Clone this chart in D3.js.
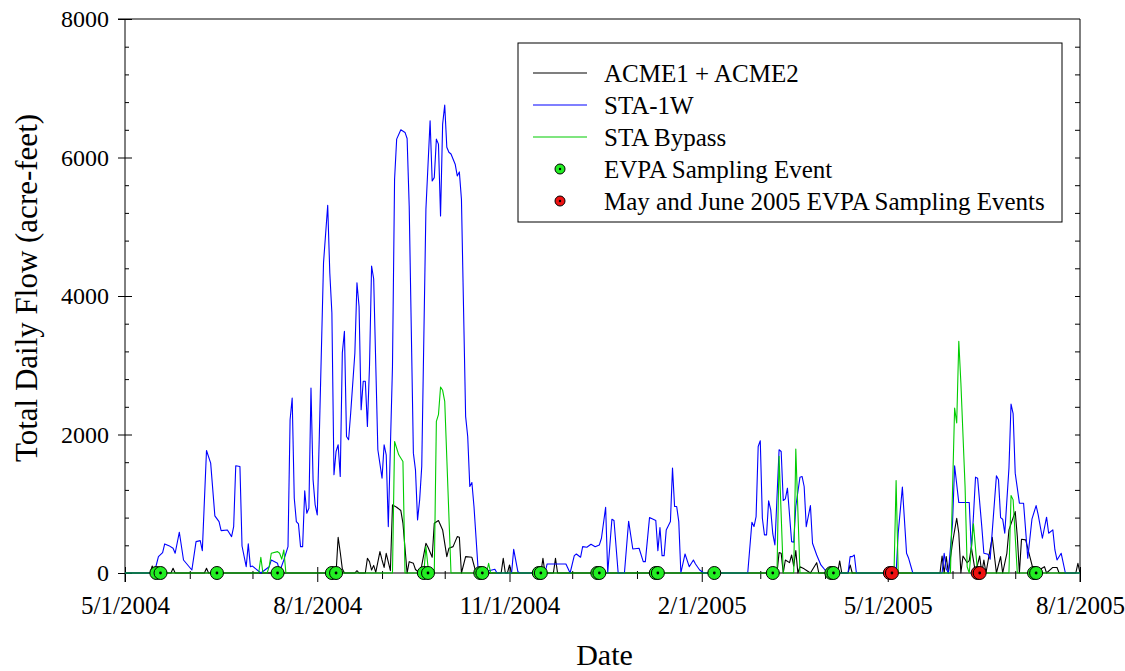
<!DOCTYPE html>
<html>
<head>
<meta charset="utf-8">
<script src="https://cdn.jsdelivr.net/npm/d3@7"></script>
<style>
  body { margin: 0; background: #fff; }
  svg { font-family: "Liberation Serif", "Times New Roman", serif; }
</style>
</head>
<body>
<div class="chart"></div>
<script>
// days counted from 5/1/2004
var startDay = "5/1/2004";

var acme = [[0,0],[12,0],[13,100],[14,30],[15,0],[22,0],[23,68],[24,0],[38,0],[39,68],[40,0],
  [101,0],[102,516],[103,300],[104,60],[105,0],[110,0],[111,33],[112,0],[115,0],[116,212],[117,164],
  [118,43],[119,110],[120,10],[122,309],[123,188],[124,80],[125,285],[127,33],[128,984],[130,950],
  [132,902],[133,719],[135,0],[136,164],[138,140],[139,50],[141,0],[142,110],[144,429],[145,371],
  [147,227],[148,719],[150,757],[152,622],[154,236],[155,357],[157,381],[159,525],[160,516],[161,0],
  [163,236],[166,227],[168,0],[180,0],[181,212],[182,0],[183,0],[184,116],[185,0],[199,0],[200,212],
  [201,0],[205,0],[206,212],[207,0],[312,0],[313,294],[314,285],[315,0],[316,188],[318,150],[319,260],
  [320,100],[321,323],[322,0],[323,90],[325,60],[326,40],[328,0],[331,149],[332,0],[341,0],[342,174],
  [343,0],[346,0],[347,116],[348,0],[390,0],[391,246],[392,0],[393,236],[394,0],[396,439],[398,791],
  [399,574],[400,0],[401,246],[403,149],[404,178],[405,371],[407,0],[409,246],[410,0],[411,188],
  [412,0],[415,516],[417,0],[419,236],[420,0],[422,285],[423,622],[426,887],[427,525],[428,0],
  [429,487],[431,478],[433,236],[435,0],[440,91],[441,0],[444,80],[446,80],[447,0],[455,0],[456,140],[457,0]];

var sta1w = [[0,0],[14,0],[16,236],[18,294],[19,420],[21,395],[23,357],[24,285],[26,589],[28,188],
  [32,43],[34,453],[36,467],[37,323],[39,1769],[41,1587],[43,825],[45,742],[46,612],[49,622],[51,525],
  [52,670],[53,1548],[55,1538],[56,390],[58,91],[59,420],[60,91],[61,100],[65,0],[69,91],[70,188],
  [73,140],[74,19],[76,188],[78,381],[79,2213],[80,2527],[81,1080],[82,742],[83,709],[84,381],[85,381],
  [86,1186],[87,863],[88,936],[89,2672],[90,1345],[91,984],[92,839],[93,1996],[95,4480],[97,5310],
  [98,4336],[99,3757],[100,1418],[101,1755],[102,1852],[103,1394],[104,3178],[105,3490],[106,1972],
  [107,1925],[108,2311],[110,3178],[111,4191],[112,3853],[113,2359],[114,2768],[115,2768],[116,2117],
  [117,2985],[118,4432],[119,4249],[121,1780],[123,1370],[124,1852],[125,1707],[126,670],[128,2985],
  [129,5686],[130,6265],[132,6400],[134,6362],[135,6275],[136,5300],[138,1731],[139,1490],[140,767],
  [141,1056],[142,1538],[144,5252],[146,6530],[147,5662],[148,5710],[149,6265],[150,6193],[151,5155],
  [152,6482],[153,6757],[154,6149],[155,6076],[156,6051],[158,5903],[159,5734],[160,5792],[161,5397],
  [163,2262],[164,1972],[165,1249],[166,1307],[167,960],[169,43],[170,0],[177,53],[178,0],[185,0],
  [186,342],[188,19],[189,0],[201,0],[202,130],[211,130],[213,0],[215,251],[216,275],[218,227],
  [219,381],[221,371],[223,415],[225,380],[227,405],[228,502],[230,950],[231,0],[233,777],[234,757],
  [236,0],[239,0],[241,748],[243,347],[246,357],[248,164],[249,164],[251,800],[254,757],[255,323],
  [256,656],[257,251],[258,251],[259,622],[261,742],[262,1515],[263,960],[264,960],[265,742],[266,0],
  [268,275],[270,91],[272,188],[273,130],[275,43],[277,0],[298,0],[300,733],[301,670],[302,815],
  [303,1827],[304,1910],[305,791],[306,550],[307,550],[308,1042],[309,911],[310,564],[311,405],
  [313,1780],[314,1755],[315,1046],[316,1071],[317,1225],[319,453],[320,444],[321,960],[323,1384],
  [324,1394],[325,1249],[326,670],[328,974],[329,429],[331,260],[333,116],[335,43],[337,0],[346,0],
  [347,236],[348,236],[349,260],[350,0],[369,0],[370,574],[372,1240],[374,285],[375,212],[377,0],
  [391,0],[392,285],[393,60],[394,0],[396,719],[397,1548],[399,1017],[404,1017],[405,333],[406,815],
  [407,1384],[408,1370],[410,670],[411,285],[413,270],[414,198],[415,598],[417,1403],[418,1345],
  [419,800],[420,777],[421,574],[423,1515],[424,2440],[425,2300],[426,1442],[428,1008],[430,1008],
  [432,212],[434,777],[436,974],[437,839],[439,502],[441,806],[442,574],[444,622],[445,333],[446,188],
  [448,285],[450,0],[457,0]];

var bypass = [[0,0],[64,0],[65,227],[66,0],[68,0],[69,91],[70,285],[73,309],[74,285],[75,200],[76,333],
  [77,0],[128,0],[129,1899],[131,1707],[133,1611],[134,0],[143,0],[144,381],[145,90],[146,0],[148,0],
  [149,2190],[150,2286],[151,2686],[152,2638],[153,2479],[156,0],[173,0],[174,140],[175,0],[312,0],
  [313,1684],[315,0],[320,0],[321,1790],[323,0],[368,0],[369,1336],[370,0],[395,0],[397,2383],
  [398,2166],[399,3347],[400,2744],[402,1249],[403,90],[404,0],[406,709],[408,0],[423,0],[424,1119],
  [425,1056],[427,0],[457,0]];

var evpaEvents = ["5/16/2004","5/18/2004","6/14/2004","7/13/2004","8/8/2004","8/10/2004","9/21/2004",
  "9/23/2004","10/18/2004","10/19/2004","11/15/2004","11/16/2004","12/13/2004","12/14/2004",
  "1/10/2005","1/11/2005","2/7/2005","3/7/2005","4/4/2005","4/5/2005","7/10/2005","7/11/2005"];
var mayJuneEvents = ["5/2/2005","5/3/2005","6/13/2005","6/14/2005"];

var xTickLabels = ["5/1/2004","8/1/2004","11/1/2004","2/1/2005","5/1/2005","8/1/2005"];
var yTicks = [0, 2000, 4000, 6000, 8000];

var legendNames = ["ACME1 + ACME2", "STA-1W", "STA Bypass", "EVPA Sampling Event",
  "May and June 2005 EVPA Sampling Events"];

var svgW = 1125, svgH = 671;
var pLeft = 125, pRight = 1080, pTop = 19, pBottom = 573;

var parse = d3.timeParse("%m/%d/%Y");
var fmt = d3.timeFormat("%-m/%-d/%Y");
var start = parse(startDay);
var toDate = function(d) { return d3.timeDay.offset(start, d); };

var svg = d3.select(".chart").append("svg")
  .attr("width", svgW)
  .attr("height", svgH);

var x = d3.scaleTime()
  .domain([start, parse("8/1/2005")])
  .range([pLeft, pRight]);
var y = d3.scaleLinear()
  .domain([0, 8000])
  .range([pBottom, pTop]);

// frame
svg.append("line").attr("x1", pLeft - 7).attr("x2", pRight).attr("y1", pTop).attr("y2", pTop)
  .attr("stroke", "#000");
svg.append("line").attr("x1", pRight).attr("x2", pRight).attr("y1", pTop).attr("y2", pBottom + 9)
  .attr("stroke", "#000");
svg.append("line").attr("x1", pLeft).attr("x2", pLeft).attr("y1", pTop).attr("y2", pBottom + 9)
  .attr("stroke", "#000");
svg.append("line").attr("x1", pLeft).attr("x2", pRight).attr("y1", pBottom).attr("y2", pBottom)
  .attr("stroke", "#000");

// y axis
var yMinor = d3.range(400, 8000, 400).filter(function(v) { return v % 2000 != 0; });
var yAxisG = svg.append("g").attr("transform", "translate(" + pLeft + ",0)")
  .call(d3.axisLeft(y).tickValues(yTicks).tickSize(7).tickPadding(9).tickFormat(d3.format("d")));
yAxisG.select(".domain").remove();
yAxisG.selectAll(".tick line").attr("x1", 7);
yAxisG.selectAll("text").style("font-size", "24px").style("font-family", "Liberation Serif").attr("fill", "#000");

var yMinorG = svg.append("g").attr("transform", "translate(" + pLeft + ",0)")
  .call(d3.axisLeft(y).tickValues(yMinor).tickSize(-4).tickFormat(""));
yMinorG.select(".domain").remove();

var yRightG = svg.append("g").attr("transform", "translate(" + pRight + ",0)")
  .call(d3.axisRight(y).tickValues(d3.range(400, 8000, 400)).tickSize(-5).tickFormat(""));
yRightG.select(".domain").remove();

// x axis
var xMajor = xTickLabels.map(parse);
var xAxisG = svg.append("g").attr("transform", "translate(0," + pBottom + ")")
  .call(d3.axisBottom(x).tickValues(xMajor).tickSize(9).tickPadding(14).tickFormat(fmt));
xAxisG.select(".domain").remove();
xAxisG.selectAll(".tick line").attr("y1", -6);
xAxisG.selectAll("text").style("font-size", "25px").style("font-family", "Liberation Serif").attr("fill", "#000");

var xMinor = d3.timeMonth.range(start, parse("8/1/2005")).filter(function(d) {
  return xTickLabels.indexOf(fmt(d)) < 0;
});
var xMinorG = svg.append("g").attr("transform", "translate(0," + pBottom + ")")
  .call(d3.axisBottom(x).tickValues(xMinor).tickSize(6).tickFormat(""));
xMinorG.select(".domain").remove();
xMinorG.selectAll(".tick line").attr("y1", -2);

// titles
svg.append("text")
  .attr("transform", "translate(37," + ((pTop + pBottom) / 2 - 8) + ") rotate(-90)")
  .attr("text-anchor", "middle")
  .style("font-size", "31px")
  .text("Total Daily Flow (acre-feet)");
svg.append("text")
  .attr("x", (pLeft + pRight) / 2 + 2)
  .attr("y", 665)
  .attr("text-anchor", "middle")
  .style("font-size", "30px")
  .text("Date");

// series
var line = d3.line()
  .x(function(d) { return x(toDate(d[0])); })
  .y(function(d) { return y(d[1]); });

var series = [
  { data: acme, color: "#000000" },
  { data: sta1w, color: "#0000ff" },
  { data: bypass, color: "#00cc00" }
];
series.forEach(function(s) {
  svg.append("path")
    .datum(s.data)
    .attr("d", line)
    .attr("fill", "none")
    .attr("stroke", s.color)
    .attr("stroke-width", 1.1)
    .attr("stroke-linejoin", "round");
});

// sampling events
var drawMarkers = function(dates, fill) {
  var g = svg.append("g");
  dates.forEach(function(s) {
    var cx = x(parse(s));
    g.append("circle").attr("cx", cx).attr("cy", y(0)).attr("r", 6.5)
      .attr("fill", fill).attr("stroke", "#000").attr("stroke-width", 1);
    g.append("circle").attr("cx", cx).attr("cy", y(0)).attr("r", 1.4).attr("fill", "#000");
  });
};
drawMarkers(evpaEvents, "#22ee22");
drawMarkers(mayJuneEvents, "#ee1111");

// legend
var legend = svg.append("g");
legend.append("rect")
  .attr("x", 518).attr("y", 43).attr("width", 544).attr("height", 179)
  .attr("fill", "#fff").attr("stroke", "#000").attr("stroke-width", 1);
var legendColors = ["#000000", "#0000ff", "#00cc00", "#22ee22", "#ee1111"];
legendNames.forEach(function(name, i) {
  var ly = 73 + i * 32;
  if (i < 3) {
    legend.append("line").attr("x1", 533).attr("x2", 587).attr("y1", ly).attr("y2", ly)
      .attr("stroke", legendColors[i]).attr("stroke-width", 1.1);
  } else {
    legend.append("circle").attr("cx", 560).attr("cy", ly).attr("r", 5)
      .attr("fill", legendColors[i]).attr("stroke", "#000");
    legend.append("circle").attr("cx", 560).attr("cy", ly).attr("r", 1.2).attr("fill", "#000");
  }
  legend.append("text").attr("x", 604).attr("y", ly).attr("dy", "0.35em")
    .style("font-size", "25px").text(name);
});
</script>
</body>
</html>
